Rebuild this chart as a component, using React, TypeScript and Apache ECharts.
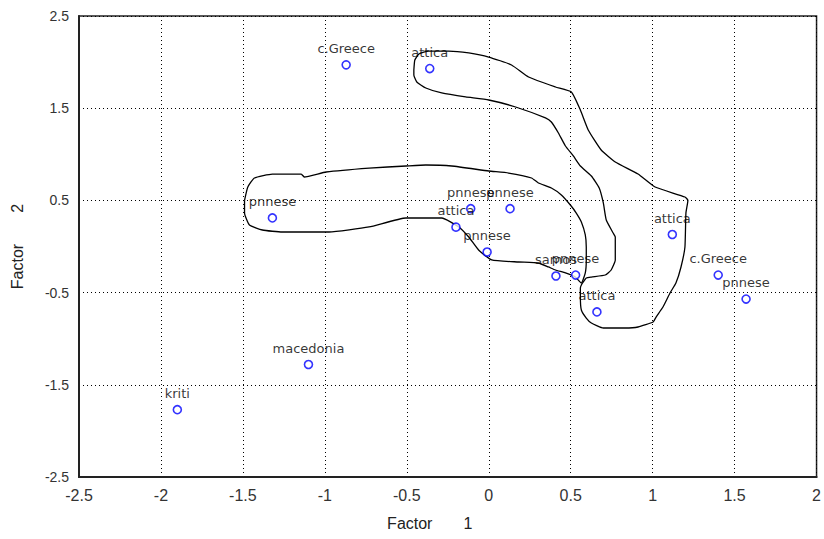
import React, { useEffect, useRef } from "react";
import * as echarts from "echarts";

// Point labels and coordinates (Factor 1, Factor 2)
const regions = [
  "c.Greece", "attica", "pnnese", "pnnese", "pnnese", "attica", "pnnese",
  "samos", "pnnese", "attica", "attica", "c.Greece", "pnnese", "macedonia", "kriti",
];
const factor1 = [-0.87, -0.36, -1.32, -0.11, 0.13, -0.2, -0.01, 0.41, 0.53, 0.66, 1.12, 1.4, 1.57, -1.1, -1.9];
const factor2 = [1.97, 1.93, 0.31, 0.41, 0.41, 0.21, -0.06, -0.32, -0.31, -0.71, 0.13, -0.31, -0.57, -1.28, -1.77];

// Axis settings
const xMin = -2.5, xMax = 2, xStep = 0.5;
const yMin = -2.5, yMax = 2.5, yStep = 1;
const xName = "Factor       1";
const yName = "Factor       2";

// Contour outlines (Factor 1, Factor 2)
const contourA: number[][] = [
  [-1.49, 0.5], [-1.47, 0.645], [-1.43, 0.743], [-1.32, 0.786], [-1.144, 0.786], [-1.126, 0.754],
  [-0.992, 0.808], [-0.73, 0.851], [-0.505, 0.873], [-0.384, 0.884], [-0.226, 0.873], [0.0, 0.819],
  [0.121, 0.797], [0.261, 0.743], [0.303, 0.689], [0.382, 0.634], [0.443, 0.559], [0.498, 0.45],
  [0.534, 0.363], [0.565, 0.266], [0.589, 0.125], [0.595, -0.005], [0.595, -0.146], [0.589, -0.287],
  [0.565, -0.396], [0.528, -0.331], [0.468, -0.287], [0.407, -0.255], [0.364, -0.222], [0.303, -0.179],
  [0.182, -0.168], [0.018, -0.146], [-0.062, -0.038], [-0.122, 0.103], [-0.183, 0.212], [-0.287, 0.309],
  [-0.505, 0.309], [-0.73, 0.212], [-0.974, 0.157], [-1.26, 0.157], [-1.381, 0.179], [-1.46, 0.233],
  [-1.49, 0.363], [-1.49, 0.5],
];
const contourB: number[][] = [
  [-0.457, 1.914], [-0.451, 2.023], [-0.426, 2.088], [-0.366, 2.12], [-0.244, 2.12], [-0.122, 2.099],
  [0.0, 2.055], [0.139, 1.969], [0.243, 1.838], [0.407, 1.73], [0.504, 1.676], [0.559, 1.48],
  [0.607, 1.264], [0.686, 1.047], [0.772, 0.917], [0.911, 0.786], [1.015, 0.645], [1.197, 0.537],
  [1.215, 0.5], [1.203, 0.363], [1.197, -0.005], [1.173, -0.222], [1.142, -0.396], [1.106, -0.504],
  [1.063, -0.656], [1.021, -0.765], [1.003, -0.819], [0.911, -0.873], [0.832, -0.884], [0.699, -0.884],
  [0.626, -0.83], [0.595, -0.776], [0.565, -0.689], [0.559, -0.548], [0.559, -0.45], [0.565, -0.418],
  [0.577, -0.385], [0.595, -0.342], [0.626, -0.331], [0.711, -0.309], [0.747, -0.255], [0.772, -0.146],
  [0.772, 0.103], [0.759, 0.146], [0.717, 0.287], [0.699, 0.472], [0.674, 0.634], [0.626, 0.765],
  [0.559, 0.873], [0.516, 0.982], [0.468, 1.09], [0.425, 1.231], [0.382, 1.35], [0.346, 1.394],
  [0.164, 1.513], [0.0, 1.589], [-0.141, 1.622], [-0.287, 1.665], [-0.384, 1.719], [-0.439, 1.784],
  [-0.457, 1.86], [-0.457, 1.914],
];

const tickFont = "'Liberation Sans', Arial, sans-serif";
const labelFont = "'DejaVu Sans', Verdana, sans-serif";

export default function App() {
  const ref = useRef<HTMLDivElement>(null);
  useEffect(() => {
    if (!ref.current) return;
    const chart = echarts.init(ref.current, null, { renderer: "svg" });
    const points = factor1.map((x, i) => ({ value: [x, factor2[i]], name: regions[i] }));
    const contourLine = (data: number[][]) => ({
      type: "line",
      data,
      showSymbol: false,
      symbol: "none",
      smooth: 0.15,
      lineStyle: { color: "#000", width: 1.3 },
      silent: true,
      z: 2,
    });
    chart.setOption({
      animation: false,
      backgroundColor: "#fff",
      grid: {
        left: 79, right: 5, top: 16, bottom: 62,
        show: true, borderColor: "#222", borderWidth: 1.5, backgroundColor: "transparent",
      },
      xAxis: {
        type: "value",
        min: xMin, max: xMax, interval: xStep,
        name: xName,
        nameLocation: "middle",
        nameGap: 38,
        nameTextStyle: { fontFamily: tickFont, fontSize: 16, color: "#222", padding: [0, 36, 0, 0] },
        axisLine: { show: true, onZero: false, lineStyle: { color: "#222", width: 2 } },
        axisTick: { show: false },
        axisLabel: { fontFamily: tickFont, fontSize: 16, color: "#333", margin: 10 },
        splitLine: { show: true, lineStyle: { color: "#000", type: [1, 3], width: 1 } },
      },
      yAxis: {
        type: "value",
        min: yMin, max: yMax, interval: yStep,
        name: yName,
        nameLocation: "middle",
        nameRotate: 90,
        nameGap: 54,
        nameTextStyle: { fontFamily: tickFont, fontSize: 16, color: "#222" },
        axisLine: { show: true, onZero: false, lineStyle: { color: "#222", width: 2 } },
        axisTick: { show: false },
        axisLabel: { fontFamily: tickFont, fontSize: 14, color: "#333", margin: 10 },
        splitLine: { show: true, lineStyle: { color: "#000", type: [1, 3], width: 1 } },
      },
      series: [
        contourLine(contourA),
        contourLine(contourB),
        {
          type: "scatter",
          data: points,
          symbol: "circle",
          symbolSize: 8,
          itemStyle: { color: "#fff", borderColor: "#0000ff", borderWidth: 1.6 },
          label: {
            show: true,
            position: "top",
            distance: 5,
            formatter: (p: any) => p.name,
            fontFamily: labelFont,
            fontSize: 13,
            color: "#000",
          },
          z: 3,
        },
      ],
    });
    return () => chart.dispose();
  }, []);
  return (
    <div
      ref={ref}
      style={{ position: "absolute", left: 0, top: 0, width: 824, height: 539, background: "#fff" }}
    />
  );
}
